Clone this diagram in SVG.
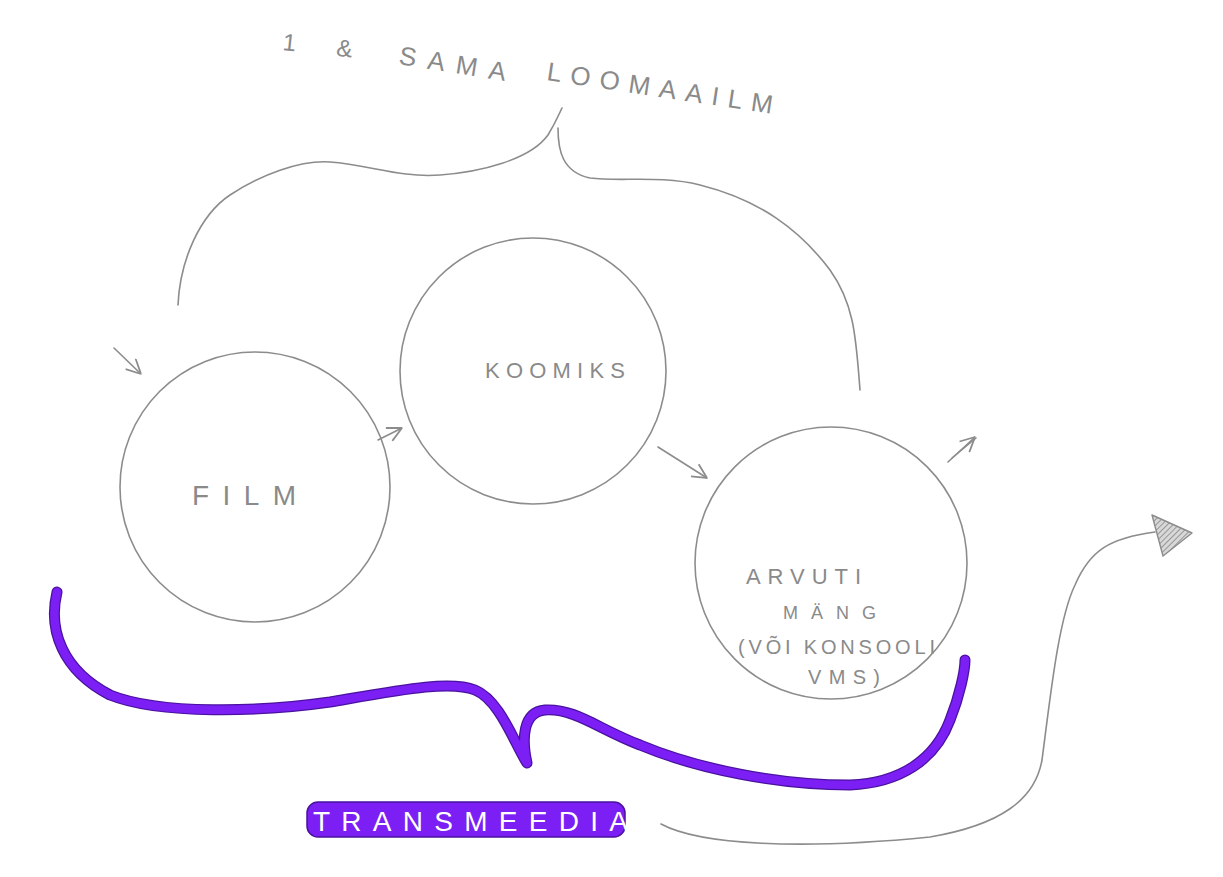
<svg xmlns="http://www.w3.org/2000/svg" width="1223" height="877" viewBox="0 0 1223 877">
<style>
.pen{fill:none;stroke:#8c8c8c;stroke-width:1.6;stroke-linecap:round;stroke-linejoin:round}
.hand{font-family:"Liberation Sans",Arial,sans-serif;fill:#8a8a8a;font-weight:normal}
.violet{fill:none;stroke:#4a129e;stroke-width:11;stroke-linecap:round;stroke-linejoin:round}
.violet2{fill:none;stroke:#7b1ff5;stroke-width:8.5;stroke-linecap:round;stroke-linejoin:round}
</style>
<defs>
<marker id="open" viewBox="0 0 10 10" refX="10" refY="5" markerWidth="16" markerHeight="16" markerUnits="userSpaceOnUse" orient="auto">
<path d="M1,0.5 L10,5 L1,9.5" fill="none" stroke="#8c8c8c" stroke-width="1.1"/>
</marker>
<pattern id="hatch" width="4" height="4" patternUnits="userSpaceOnUse" patternTransform="rotate(45)">
<rect width="4" height="4" fill="#d8d8d8"/>
<line x1="0" y1="0" x2="0" y2="4" stroke="#7a7a7a" stroke-width="1.4"/>
</pattern>
</defs>
<rect width="1223" height="877" fill="#ffffff"/>

<g id="title">
<text class="hand" font-size="24" transform="translate(282,50) rotate(6)" textLength="70" lengthAdjust="spacing">1 &amp;</text>
<text class="hand" font-size="26" transform="translate(398,64) rotate(9)" textLength="108" lengthAdjust="spacing">SAMA</text>
<text class="hand" font-size="26" transform="translate(546,80) rotate(8.5)" textLength="228" lengthAdjust="spacing">LOOMAAILM</text>
</g>

<g id="connectors">
<path class="pen" d="M178,305 C180,260 200,215 230,195 C260,175 300,160 330,162 C370,165 400,178 440,175 C480,172 530,160 548,135 C556,122 560,112 562,108 M558,128 C558,150 562,172 590,178 C620,182 660,175 700,185 C760,200 800,230 830,270 C855,305 856,340 860,390"/>
<path class="pen" d="M114,348 L141,374" marker-end="url(#open)"/>
<path class="pen" d="M378,440 L402,428" marker-end="url(#open)"/>
<path class="pen" d="M658,447 L707,478" marker-end="url(#open)"/>
<path class="pen" d="M948,462 L975,437" marker-end="url(#open)"/>
<path class="pen" d="M952,458 L976,438"/>
<path class="violet" d="M57,592 C48,630 62,670 110,695 C160,715 260,712 330,702 C400,690 450,680 475,690 C500,700 515,745 527,763 C522,740 522,712 545,710 C575,708 600,730 640,745 C700,770 780,785 850,785 C900,783 935,760 950,720 C960,695 965,670 965,660"/>
<path class="violet2" d="M57,592 C48,630 62,670 110,695 C160,715 260,712 330,702 C400,690 450,680 475,690 C500,700 515,745 527,763 C522,740 522,712 545,710 C575,708 600,730 640,745 C700,770 780,785 850,785 C900,783 935,760 950,720 C960,695 965,670 965,660"/>
<path class="pen" d="M661,824 C700,845 800,850 930,837 C1000,825 1035,800 1042,760 C1050,700 1058,620 1075,585 C1090,550 1110,538 1155,532"/>
<polygon points="1152,515 1192,533 1163,556" fill="url(#hatch)" stroke="#8c8c8c" stroke-width="1.4" stroke-linejoin="round"/>
</g>

<g id="film">
<circle class="pen" cx="255" cy="487" r="135"/>
<text class="hand" font-size="28" x="192" y="505" textLength="104" lengthAdjust="spacing">FILM</text>
</g>

<g id="koomiks">
<circle class="pen" cx="533" cy="371" r="133"/>
<text class="hand" font-size="22" x="485" y="378" textLength="140" lengthAdjust="spacing">KOOMIKS</text>
</g>

<g id="arvuti">
<circle class="pen" cx="831" cy="563" r="136"/>
<text class="hand" font-size="22" x="746" y="584" textLength="115" lengthAdjust="spacing">ARVUTI</text>
<text class="hand" font-size="18" x="783" y="619" textLength="93" lengthAdjust="spacing">MÄNG</text>
<text class="hand" font-size="20" x="738" y="654" textLength="197" lengthAdjust="spacing">(VÕI KONSOOLI</text>
<text class="hand" font-size="20" x="808" y="684" textLength="72" lengthAdjust="spacing">VMS)</text>
</g>

<g id="transmeedia">
<rect x="307" y="802" width="318" height="35" rx="11" fill="#7b1ff5" stroke="#4a129e" stroke-width="1.5"/>
<text font-family="'Liberation Sans',Arial,sans-serif" font-size="28" fill="#ffffff" x="313" y="831" textLength="315" lengthAdjust="spacing">TRANSMEEDIA</text>
</g>
</svg>
